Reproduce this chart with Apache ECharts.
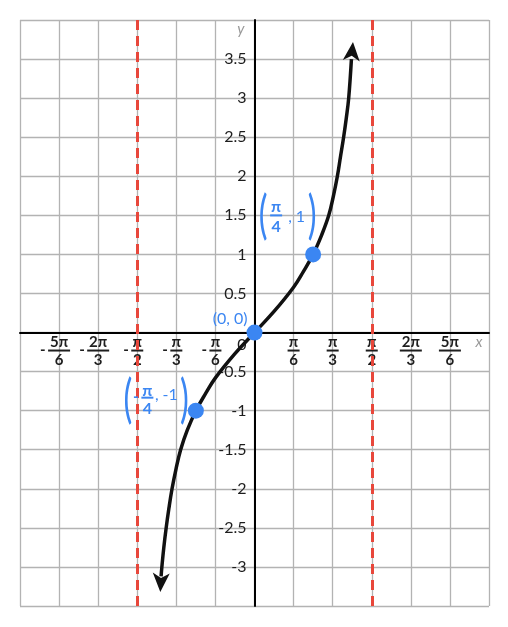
<!DOCTYPE html>
<html><head><meta charset="utf-8">
<script src="https://cdn.jsdelivr.net/npm/echarts@6/dist/echarts.min.js"></script>
<style>html,body{margin:0;padding:0;background:#fff}#c{width:508px;height:627px}</style>
</head><body><div id="c"></div>
<script>
// x values are in units of π/6
const xTickValues = [-5, -4, -3, -2, -1, 1, 2, 3, 4, 5];
const xTickNum = ['5π', '2π', 'π', 'π', 'π', 'π', 'π', 'π', '2π', '5π'];
const xTickDen = ['6', '3', '2', '3', '6', '6', '3', '2', '3', '6'];
const asymptoteX = [-3, 3];
// curve y = tan(x) (bottom branch end -> top branch end)
const curveX = [-2.39, -2.37, -2.32, -2.26, -2.19, -2.11, -2.01, -1.89, -1.72, -1.5, -1.25, -1.0, -0.5, 0, 0.5, 1.0, 1.25, 1.5, 1.72, 1.90, 2.02, 2.12, 2.20, 2.28, 2.35, 2.41, 2.48];
const curveY = [-3.12, -3.0, -2.75, -2.5, -2.25, -2.0, -1.75, -1.5, -1.25, -1.0, -0.78, -0.58, -0.27, 0, 0.27, 0.58, 0.78, 1.0, 1.25, 1.5, 1.75, 2.0, 2.25, 2.5, 2.75, 3.0, 3.5];
const arrowTipX = [-2.41, 2.52];
const arrowTipY = [-3.32, 3.72];
// labelled points
const pointX = [0, 1.5, -1.5];
const pointY = [0, 1, -1];
const pointSign = ['', '', '-'];
const pointNum = ['', 'π', 'π'];
const pointDen = ['', '4', '4'];
const pointRest = ['(0, 0)', ', 1', ', -1'];

const X_MIN = -6, X_MAX = 6, Y_MIN = -3.5, Y_MAX = 4;
const W = 508, H = 627, G = {left: 20, right: 19, top: 20, bottom: 21};
const gridW = W - G.left - G.right, gridH = H - G.top - G.bottom;

const FONT = 'Lato, "Open Sans", sans-serif';
const BLUE = '#3b86f2';
const INK = '#1e1e1e';

const chart = echarts.init(document.getElementById('c'), null, {renderer: 'canvas'});

const xRich = {
  n: {fontSize: 15, fontWeight: 'bold', lineHeight: 13, fontFamily: FONT, color: INK, align: 'center'},
  d: {fontSize: 15, fontWeight: 'bold', lineHeight: 16, fontFamily: FONT, color: INK, align: 'center'},
  b1: {width: 12, height: 2, lineHeight: 4, backgroundColor: INK, fontSize: 1},
  b2: {width: 22, height: 2, lineHeight: 4, backgroundColor: INK, fontSize: 1},
  mi: {width: 8, fontSize: 15, fontWeight: 'bold', lineHeight: 4, fontFamily: FONT, color: INK, align: 'left'},
  sp: {width: 8, fontSize: 1, lineHeight: 4}
};

function xLabel(v) {
  const i = xTickValues.indexOf(v);
  if (i < 0) return '';
  const num = xTickNum[i];
  const bk = num.length > 1 ? 'b2' : 'b1';
  if (v < 0) return '{n|' + num + '}\n{mi|-}{' + bk + '| }{sp| }\n{d|' + xTickDen[i] + '}';
  return '{n|' + num + '}\n{' + bk + '| }\n{d|' + xTickDen[i] + '}';
}

function yLabel(v) {
  if (v === 0) return '{z|0}';
  if (v >= Y_MAX || v <= Y_MIN) return '';
  return String(v);
}

const curveData = curveX.map((x, i) => [x, curveY[i]]);
const n = curveX.length;
const arrowData = [
  [arrowTipX[0], arrowTipY[0], curveX[0], curveY[0]],
  [arrowTipX[1], arrowTipY[1], curveX[n - 1], curveY[n - 1]]
];

function renderArrow(params, api) {
  const tip = api.coord([api.value(0), api.value(1)]);
  const base = api.coord([api.value(2), api.value(3)]);
  let dx = tip[0] - base[0], dy = tip[1] - base[1];
  const len = Math.sqrt(dx * dx + dy * dy);
  dx /= len; dy /= len;
  const nx = -dy, ny = dx;
  const L = 19, HW = 8.5, N = 5;
  const pts = [
    [tip[0], tip[1]],
    [tip[0] - L * dx + HW * nx, tip[1] - L * dy + HW * ny],
    [tip[0] - (L - N) * dx, tip[1] - (L - N) * dy],
    [tip[0] - L * dx - HW * nx, tip[1] - L * dy - HW * ny]
  ];
  return {type: 'polygon', shape: {points: pts}, style: {fill: '#111'}};
}

const labelLayouts = [
  null,
  {lp: [-50, -38], sign: null, num: [-37, -48], bar: [-43, -40, 12], den: [-37, -28], rest: [-25, -38], rp: [-1, -38]},
  {lp: [-68, -11], sign: [-60, -14], num: [-48.5, -20], bar: [-54.5, -14, 12], den: [-48.5, -2], rest: [-41, -16], rp: [-11.5, -11]}
];

function txt(x, y, text, extra) {
  return {
    type: 'text', x: x, y: y,
    style: Object.assign({text: text, fill: BLUE, fontSize: 16, fontFamily: FONT, align: 'center', verticalAlign: 'middle'}, extra || {})
  };
}

function renderPoint(params, api) {
  const i = params.dataIndex;
  const p = api.coord([api.value(0), api.value(1)]);
  const children = [];
  const lay = labelLayouts[i];
  if (!lay) {
    children.push(txt(-7, -14, pointRest[i], {align: 'right'}));
  } else {
    const paren = {fontSize: 33, fontWeight: 'normal'};
    const lp = txt(lay.lp[0], lay.lp[1], '(', paren); lp.scaleY = 1.6; children.push(lp);
    const rp = txt(lay.rp[0], lay.rp[1], ')', paren); rp.scaleY = 1.6; children.push(rp);
    if (lay.sign) children.push(txt(lay.sign[0], lay.sign[1], pointSign[i], {fontWeight: 'bold'}));
    children.push(txt(lay.num[0], lay.num[1], pointNum[i], {fontWeight: 'bold'}));
    children.push({type: 'rect', shape: {x: lay.bar[0], y: lay.bar[1], width: lay.bar[2], height: 2}, style: {fill: BLUE}});
    children.push(txt(lay.den[0], lay.den[1], pointDen[i], {fontWeight: 'bold'}));
    children.push(txt(lay.rest[0], lay.rest[1], pointRest[i], {align: 'left'}));
  }
  children.push({type: 'circle', shape: {cx: 0, cy: 0, r: 8}, style: {fill: BLUE}});
  return {type: 'group', x: p[0], y: p[1], children: children};
}

chart.setOption({
  animation: false,
  backgroundColor: '#fff',
  grid: {left: G.left, right: G.right, top: G.top, bottom: G.bottom, containLabel: false, outerBoundsMode: 'none'},
  xAxis: {
    type: 'value', min: X_MIN, max: X_MAX, interval: 1, position: 'bottom',
    offset: -gridH * (0 - Y_MIN) / (Y_MAX - Y_MIN),
    name: 'x', nameLocation: 'end', nameGap: -10,
    nameTextStyle: {color: '#999', fontStyle: 'italic', fontSize: 15, fontFamily: FONT, align: 'center', verticalAlign: 'top', padding: [2, 0, 0, 0]},
    axisLine: {onZero: false, lineStyle: {color: '#000', width: 2}},
    axisTick: {show: false},
    splitLine: {show: true, lineStyle: {color: '#b3b3b3', width: 1.3}},
    axisLabel: {margin: 3, formatter: xLabel, rich: xRich, showMinLabel: true, showMaxLabel: true, hideOverlap: false}
  },
  yAxis: {
    type: 'value', min: Y_MIN, max: Y_MAX, interval: 0.5, position: 'left',
    offset: -gridW * (0 - X_MIN) / (X_MAX - X_MIN),
    name: 'y', nameLocation: 'end', nameGap: -9,
    nameTextStyle: {color: '#999', fontStyle: 'italic', fontSize: 15, fontFamily: FONT, align: 'right', verticalAlign: 'middle', padding: [0, 10, 0, 0]},
    axisLine: {onZero: false, lineStyle: {color: '#000', width: 2}},
    axisTick: {show: false},
    splitLine: {show: true, lineStyle: {color: '#b3b3b3', width: 1.3}},
    axisLabel: {margin: 8, fontSize: 16, fontFamily: FONT, color: INK, formatter: yLabel,
      rich: {z: {fontSize: 16, fontFamily: FONT, color: INK, padding: [24, 0, 0, 0]}},
      showMinLabel: true, showMaxLabel: true, hideOverlap: false}
  },
  series: [
    {
      type: 'line', data: curveData, smooth: 0.4, showSymbol: false, symbol: 'none',
      lineStyle: {color: '#111', width: 3.5}, z: 3, silent: true,
      markLine: {
        silent: true, symbol: 'none', label: {show: false},
        lineStyle: {color: '#e8473b', width: 3, type: [10, 6]},
        data: asymptoteX.map(v => ({xAxis: v}))
      }
    },
    {type: 'custom', renderItem: renderArrow, data: arrowData, z: 4, silent: true, clip: false,
      encode: {x: [0, 2], y: [1, 3]}},
    {type: 'custom', renderItem: renderPoint, data: pointX.map((x, i) => [x, pointY[i]]), z: 5, silent: true, clip: false}
  ]
});
</script></body></html>
